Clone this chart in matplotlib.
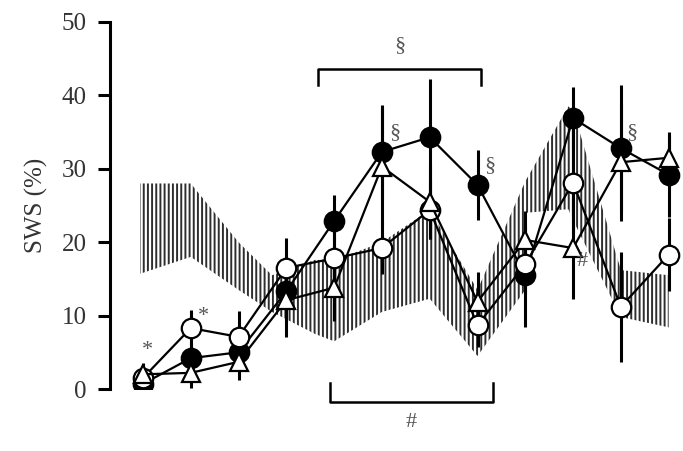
import numpy as np
import matplotlib
matplotlib.use("Agg")
import matplotlib.pyplot as plt

plt.rcParams['font.family'] = ['Liberation Serif', 'DejaVu Serif']
plt.rcParams['hatch.linewidth'] = 1.4

# time points (12 consecutive bins)
t = np.arange(12)

sws_filled = [0.7, 4.2, 5.0, 13.3, 22.9, 32.3, 34.3, 27.8, 15.5, 36.9, 32.8, 29.2]
sem_filled = [0.5, 2.0, 2.0, 4.0, 3.5, 6.4, 8.0, 4.8, 7.0, 4.2, 8.6, 5.8]

sws_open = [1.5, 8.3, 7.1, 16.5, 17.8, 19.2, 24.4, 8.7, 17.0, 28.1, 11.2, 18.3]
sem_open = [1.0, 2.4, 3.5, 4.1, 4.0, 3.5, 4.0, 3.0, 4.0, 7.0, 7.5, 5.0]

sws_tri = [2.0, 2.2, 3.7, 12.1, 13.8, 30.3, 25.5, 11.9, 20.3, 19.2, 30.9, 31.5]
sem_tri = [1.5, 2.0, 2.5, 5.0, 4.5, 8.0, 5.0, 4.0, 4.0, 7.0, 8.0, 3.0]

# reference range (hatched band)
band_t = [-0.06, 1.0, 2.0, 2.7, 3.6, 4.0, 5.0, 6.0, 7.0, 8.0, 8.0, 8.9, 9.0, 10.0, 11.0]
band_hi = [28.0, 28.0, 20.0, 15.5, 17.6, 17.5, 20.0, 24.4, 13.5, 28.3, 28.3, 38.5, 38.0, 16.2, 15.5]
band_lo = [15.7, 18.0, 13.5, 10.5, 7.5, 6.5, 10.5, 12.3, 4.5, 13.5, 24.0, 24.5, 23.0, 9.8, 8.4]

# significance marks: (t, value, symbol)
marks = [(0.1, 5.2, '*'), (1.27, 9.9, '*'), (5.27, 34.9, '§'), (7.26, 30.5, '§'),
         (10.23, 34.9, '§'), (9.2, 17.4, '#')]

fig = plt.figure(figsize=(6.83, 4.51), dpi=100)
ax = fig.add_axes([110 / 683, 62 / 451, 1 - 110 / 683, 367 / 451])

ax.fill_between(band_t, band_lo, band_hi, facecolor='none', edgecolor='#2e2e2e',
                hatch='||||', linewidth=0, zorder=1)

series = [
    (sws_filled, sem_filled, 'o', 'black'),
    (sws_open, sem_open, 'o', 'white'),
    (sws_tri, sem_tri, '^', 'white'),
]
for y, err, m, fc in series:
    ax.errorbar(t, y, yerr=err, fmt='none', ecolor='black', elinewidth=2.2,
                capsize=0, zorder=2)
for i, (y, err, m, fc) in enumerate(series):
    ax.plot(t, y, color='black', lw=1.6, marker=m, ms=14 if m == 'o' else 13,
            mfc=fc, mec='black', mew=1.6, zorder=3 + i)

for x, y, s in marks:
    ax.text(x, y, s, fontsize=16, color='#555555', ha='center', va='center',
            clip_on=False, zorder=7)

# brackets over / under the middle bins
top_l, top_r = 3.66, 7.07
ax.plot([top_l, top_l, top_r, top_r], [41.4, 43.6, 43.6, 41.4], color='black',
        lw=1.8, clip_on=False)
ax.text((top_l + top_r) / 2, 46.8, '§', fontsize=16, color='#555555', ha='center',
        va='center')
bot_l, bot_r = 3.91, 7.32
ax.plot([bot_l, bot_l, bot_r, bot_r], [0.8, -1.8, -1.8, 0.8], color='black',
        lw=1.8, clip_on=False)
ax.text((bot_l + bot_r) / 2, -4.5, '#', fontsize=16, color='#555555', ha='center',
        va='center', clip_on=False)

ax.set_xlim(-0.69, 11.3)
ax.set_ylim(0, 50)
ax.set_yticks([0, 10, 20, 30, 40, 50])
ax.tick_params(axis='y', length=9, width=2.2, labelsize=18, pad=8,
               labelcolor='#333333')
ax.set_xticks([])
for side in ['top', 'right', 'bottom']:
    ax.spines[side].set_visible(False)
ax.spines['left'].set_linewidth(2.2)
ax.set_ylabel('SWS (%)', fontsize=18, labelpad=10, color='#333333')

fig.savefig('out.png', dpi=100)
